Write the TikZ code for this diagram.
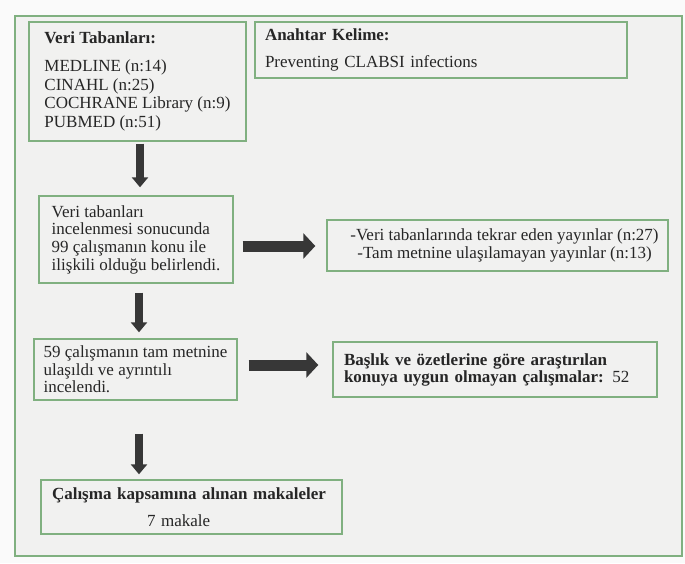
\documentclass[tikz,border=0pt]{standalone}
\usepackage{fontspec}
\setmainfont{Liberation Serif}
\usetikzlibrary{arrows.meta,calc}
\definecolor{bordergreen}{RGB}{128,176,128}
\definecolor{bgin}{RGB}{241,241,240}
\definecolor{bgout}{RGB}{250,250,250}
\definecolor{inkc}{RGB}{38,38,38}
\definecolor{arrowc}{RGB}{55,55,55}
\begin{document}
\begin{tikzpicture}[x=1pt,y=-1pt,
  box/.style={draw=bordergreen, line width=1.4pt, fill=bgin, text=inkc,
    inner ysep=0pt, anchor=center, font=\fontsize{17}{18.8}\selectfont},
  varrow/.style={draw=arrowc, line width=8.5pt, -{Triangle[width=16pt,length=10pt]}},
  harrow/.style={draw=arrowc, line width=11pt, -{Triangle[width=25pt,length=12pt]}}]
\useasboundingbox (0,0) rectangle (685,563);
\fill[bgout] (0,0) rectangle (685,563);
\node[draw=bordergreen, line width=1.4pt, fill=bgin, minimum width=667pt, minimum height=540pt, inner sep=0pt] (outer) at (348.5,286) {};

\node[box, align=left, minimum width=217pt, minimum height=119pt] (b1) at (137.5,81.5)
  {\textbf{Veri Tabanları:}\\[9pt]MEDLINE (n:14)\\CINAHL (n:25)\\COCHRANE Library (n:9)\\PUBMED (n:51)};

\node[box, align=left, text width=352pt, inner xsep=10pt, minimum height=56pt] (b2) at (441,50)
  {\textbf{Anahtar Kelime:}\\[9pt]Preventing CLABSI infections};

\node[box, align=left, minimum width=194pt, minimum height=87pt, font=\fontsize{17}{17.7}\selectfont] (b3) at (136,239.5)
  {Veri tabanları\\incelenmesi sonucunda\\99 çalışmanın konu ile\\ilişkili olduğu belirlendi.};

\node[box, align=center, minimum width=341pt, minimum height=51pt, font=\fontsize{17}{18}\selectfont] (b4) at (497.5,245.5)
  {\hspace*{14pt}-Veri tabanlarında tekrar eden yayınlar (n:27)\\\hspace*{14pt}-Tam metnine ulaşılamayan yayınlar (n:13)};

\node[box, align=left, minimum width=203pt, minimum height=61pt, font=\fontsize{17}{17.5}\selectfont] (b5) at (135.5,369.5)
  {59 çalışmanın tam metnine\\ulaşıldı ve ayrıntılı\\incelendi.};

\node[box, align=left, text width=302pt, inner xsep=11pt, minimum height=55pt, font=\fontsize{17}{17}\selectfont] (b6) at (495,369.5)
  {\textbf{Başlık ve özetlerine göre araştırılan}\\\textbf{konuya uygun olmayan çalışmalar:} 52};

\node[box, align=left, text width=279pt, inner xsep=11pt, minimum height=54pt] (b7) at (191.5,507)
  {\textbf{Çalışma kapsamına alınan makaleler}\\[8pt]\hspace*{95pt}7 makale};

\draw[varrow] ($(b1.south)+(2.5,2)$) -- ($(b3.north)+(4,-8)$);
\draw[varrow] ($(b3.south)+(3,9)$) -- ($(b5.north)+(3.5,-6)$);
\draw[varrow] ($(b5.south)+(3.5,33)$) -- ($(b7.north)+(-52.5,-5)$);
\draw[harrow] ($(b3.east)+(9,6.5)$) -- ($(b4.west)+(-11,0.5)$);
\draw[harrow] ($(b5.east)+(11,-4.5)$) -- ($(b6.west)+(-14,-4.5)$);
\end{tikzpicture}
\end{document}
